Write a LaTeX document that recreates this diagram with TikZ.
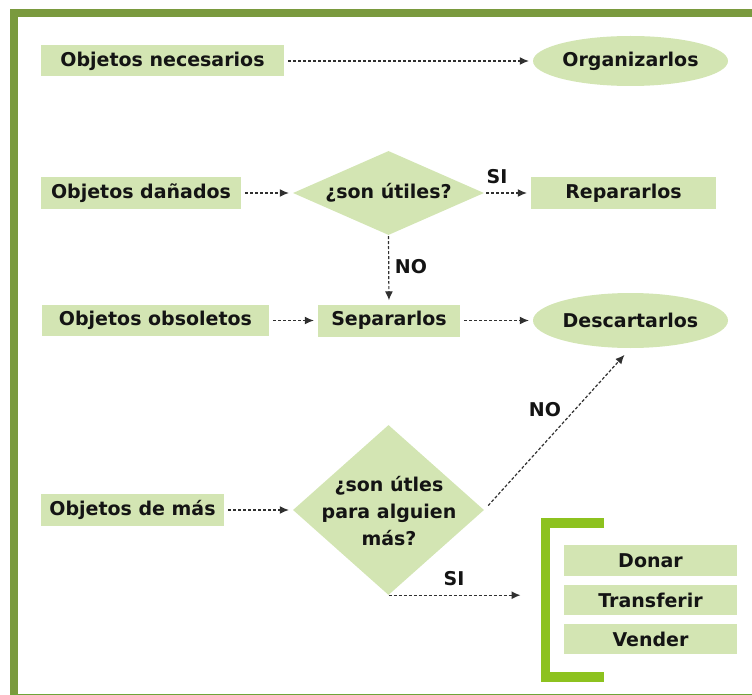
\documentclass[tikz,border=0pt]{standalone}
\usepackage{fontspec}
\setmainfont{DejaVu Sans}
\usetikzlibrary{shapes.geometric,arrows.meta}
\definecolor{framecol}{HTML}{7A9A3E}
\definecolor{boxfill}{HTML}{D3E5B3}
\definecolor{brkcol}{HTML}{8DC21F}
\definecolor{arrcol}{HTML}{303030}
\begin{document}
\begin{tikzpicture}[x=1pt,y=-1pt,
  txt/.style={font=\fontsize{19}{27}\selectfont\bfseries, text=black!92, inner sep=0pt},
  rbox/.style={txt, rectangle, fill=boxfill},
  oval/.style={txt, ellipse, fill=boxfill},
  dmd/.style={diamond, fill=boxfill, inner sep=0pt},
  flow/.style={draw=arrcol, line width=1.2pt, dash pattern=on 3pt off 2pt,
    -{Latex[length=9pt,width=8pt]}, shorten <=4pt, shorten >=4pt},
]
\useasboundingbox (0,0) rectangle (752,695);
% frame
\fill[framecol] (10,9) rectangle (752,17);
\fill[framecol] (10,9) rectangle (18,694);
\fill[framecol!90!green] (10,693.5) rectangle (752,695);

% row 1
\node[rbox, minimum width=243pt, minimum height=31pt] (nec) at (162.5,61) {Objetos necesarios};
\node[oval, minimum width=195pt, minimum height=50pt] (org) at (630.5,61) {Organizarlos};
\draw[flow] (nec.east) -- (org.west);

% row 2
\node[rbox, minimum width=200pt, minimum height=32pt] (dan) at (141,193) {Objetos dañados};
\node[dmd, minimum width=191pt, minimum height=84pt] (d1) at (388.5,193) {};
\node[txt] (d1t) at (d1.center) {¿son útiles?};
\node[rbox, minimum width=185pt, minimum height=32pt] (rep) at (623.5,193) {Repararlos};
\draw[flow] (dan.east) -- (d1.west);
\draw[flow, shorten <=2pt] (d1.east) -- (rep.west);
\node[txt] (si1) at (497,177) {SI};

% row 3
\node[rbox, minimum width=227pt, minimum height=31pt] (obs) at (155.5,320.5) {Objetos obsoletos};
\node[rbox, minimum width=142pt, minimum height=32pt] (sep) at (389,320.5) {Separarlos};
\node[oval, minimum width=195pt, minimum height=55pt] (desc) at (630.5,320.5) {Descartarlos};
\draw[flow] (obs.east) -- (sep.west);
\draw[flow] (sep.east) -- (desc.west);
\draw[flow, shorten <=1pt] (d1.south) -- (sep.north);
\node[txt] (no1) at (411,267) {NO};

% row 4
\node[rbox, minimum width=183pt, minimum height=32pt] (mas) at (132.5,510) {Objetos de más};
\node[dmd, minimum width=191pt, minimum height=170pt] (d2) at (388.5,510) {};
\node[txt, align=center] (d2t) at (389,511) {¿son útles\\para alguien\\más?};
\draw[flow] (mas.east) -- (d2.west);
\draw[flow, shorten <=6pt, shorten >=9pt] (d2.east) -- (desc.south);
\node[txt] (no2) at (545,410) {NO};

\path (d2.south) ++(136,0) coordinate (siend);
\draw[flow, shorten <=0pt] (d2.south) -- (siend);
\node[txt] (si2) at (454,579) {SI};

% bracket and options
\draw[brkcol, line width=9.5pt, line join=miter] (604,523) -- (545.5,523) -- (545.5,677) -- (604,677);
\node[rbox, minimum width=173pt, minimum height=31pt] (don) at (650.5,560.5) {Donar};
\node[rbox, minimum width=173pt, minimum height=30pt] (tra) at (650.5,600) {Transferir};
\node[rbox, minimum width=173pt, minimum height=30pt] (ven) at (650.5,639) {Vender};
\end{tikzpicture}
\end{document}
